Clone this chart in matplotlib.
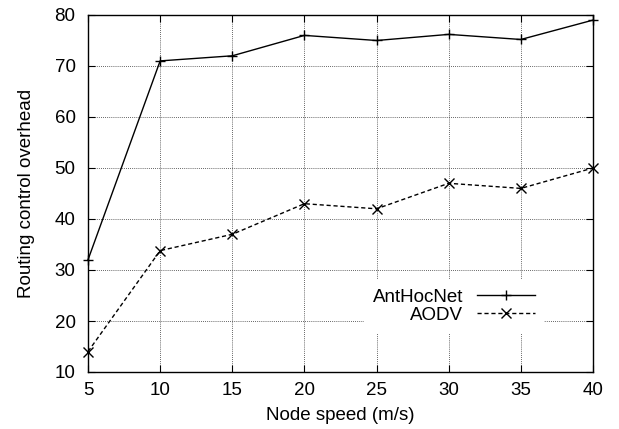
import matplotlib
matplotlib.use("Agg")
import matplotlib.pyplot as plt

speeds = [5, 10, 15, 20, 25, 30, 35, 40]
anthocnet = [32, 71, 72, 76, 75, 76.2, 75.2, 79]
aodv = [14, 33.8, 37, 43, 42, 47, 46, 50]
xticks = [5, 10, 15, 20, 25, 30, 35, 40]
yticks = [10, 20, 30, 40, 50, 60, 70, 80]

plt.rcParams['font.family'] = ['Liberation Sans', 'DejaVu Sans']
FS = 13.5

fig = plt.figure(figsize=(6.19, 4.29), dpi=100)
ax = fig.add_axes([88 / 619, 1 - 372 / 429, (593 - 88) / 619, (372 - 15) / 429])

ax.plot(speeds, anthocnet, color='black', lw=1.0, marker='+', ms=7, mew=1.0,
        label='AntHocNet', clip_on=False, zorder=3)
ax.plot(speeds, aodv, color='black', lw=1.0, ls=(0, (3, 2)), marker='x', ms=7.5, mew=1.0,
        label='AODV', clip_on=False, zorder=3)

ax.set_xlim(5, 40)
ax.set_ylim(10, 80)
ax.set_xticks(xticks)
ax.set_yticks(yticks)
ax.grid(True, color='#333333', ls=(0, (1, 1.5)), lw=0.6)
ax.tick_params(direction='in', top=True, right=True, length=5, width=0.8, labelsize=FS)
ax.tick_params(axis='x', pad=7)
ax.tick_params(axis='y', pad=9)
for s in ax.spines.values():
    s.set_linewidth(1.0)

ax.set_xlabel('Node speed (m/s)', fontsize=FS, labelpad=6)
ax.set_ylabel('Routing control overhead', fontsize=FS, labelpad=14)

leg = ax.legend(loc='center right', bbox_to_anchor=(544 / 619, 1 - 306 / 429),
                bbox_transform=fig.transFigure, borderaxespad=0,
                frameon=True, fancybox=False, edgecolor='none', facecolor='white', framealpha=1,
                markerfirst=False, handlelength=3.1, handletextpad=0.7, labelspacing=0.05,
                borderpad=0.5, fontsize=FS)
leg._legend_box.align = 'right'
for t in leg.get_texts():
    t.set_ha('right')

fig.savefig('out.png', dpi=100)
